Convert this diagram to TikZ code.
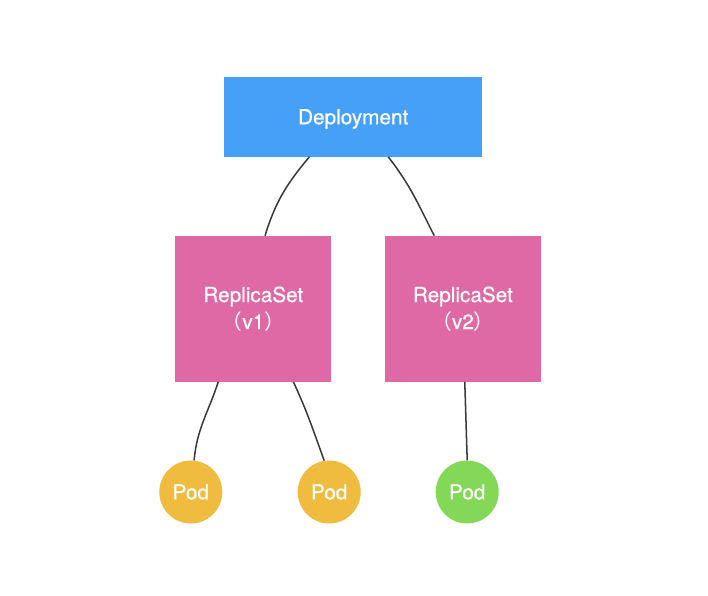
\documentclass[tikz,border=0pt]{standalone}
\usepackage{fontspec}
\setmainfont{TeX Gyre Heros}[FakeBold=0.6]
\newfontfamily\cjk{Noto Sans CJK SC}
\usetikzlibrary{calc}

\definecolor{deployblue}{HTML}{47A0F7}
\definecolor{rspink}{HTML}{DF69A5}
\definecolor{podorange}{HTML}{F0BC3F}
\definecolor{podgreen}{HTML}{83D857}
\definecolor{linkgray}{HTML}{3A3A3A}

\begin{document}
\begin{tikzpicture}[x=0.03cm,y=0.03cm]

	\tikzset{
	  box/.style={
		fill,
		inner sep=0pt,
		text=white,
		align=center,
		font=\fontsize{17.7}{23}\selectfont,
	  },
	  pod/.style={
		box,
		circle,
		minimum size=1.89cm,
	  },
	  link/.style={
		color=linkgray,
		line width=1.3pt,
	  },
	}
	\useasboundingbox (0,0) rectangle (708,596);
	\node[box,fill=deployblue,text depth=0pt,minimum width=7.73cm,minimum height=2.4cm] (deploy) at (353.2,479.3) {Deployment};
	\node[box,fill=rspink,minimum width=4.68cm,minimum height=4.37cm] (rsone) at (253.3,287.2) {ReplicaSet\\{\cjk （}v1{\cjk ）}};
	\node[box,fill=rspink,minimum width=4.68cm,minimum height=4.37cm] (rstwo) at (462.9,287.2) {ReplicaSet\\{\cjk （}v2{\cjk ）}};
	\node[pod,fill=podorange] (podone) at (190.8,104) {Pod};
	\node[pod,fill=podorange] (podtwo) at (329.2,104) {Pod};
	\node[pod,fill=podgreen] (podthree) at (467.2,104) {Pod};
	% deployment to replica sets
	\draw[link] ($(deploy.south west)!0.33!(deploy.south east)$) to[out=-130,in=73] ($(rsone.north west)!0.575!(rsone.north east)$);
	\draw[link] ($(deploy.south west)!0.636!(deploy.south east)$) to[out=-52,in=117] ($(rstwo.north west)!0.317!(rstwo.north east)$);
	% replica sets to pods
	\draw[link] ($(rsone.south west)!0.276!(rsone.south east)$) to[out=-108,in=85] (podone.84);
	\draw[link] ($(rsone.south west)!0.756!(rsone.south east)$) to[out=-65,in=110] (podtwo.99);
	\draw[link] ($(rstwo.south west)!0.512!(rstwo.south east)$) -- (podthree.north);

\end{tikzpicture}
\end{document}
